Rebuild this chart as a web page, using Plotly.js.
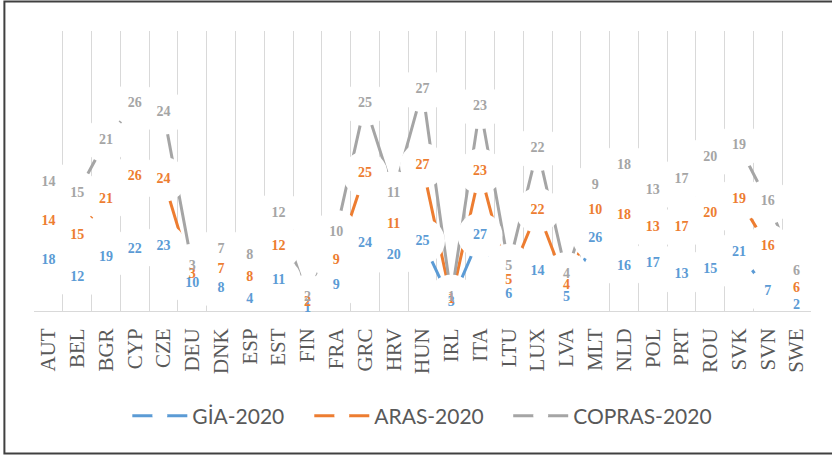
<!DOCTYPE html>
<html>
<head>
<meta charset="utf-8">
<script src="https://cdn.plot.ly/plotly-3.0.1.min.js"></script>
<style>html,body{margin:0;padding:0;background:#fff;}#chart{width:832px;height:455px;}</style>
</head>
<body>
<div id="chart"></div>
<script>
const categories = ['AUT','BEL','BGR','CYP','CZE','DEU','DNK','ESP','EST','FIN','FRA','GRC','HRV','HUN','IRL','ITA','LTU','LUX','LVA','MLT','NLD','POL','PRT','ROU','SVK','SVN','SWE'];
const gia    = [18,12,19,22,23,10,8,4,11,1,9,24,20,25,3,27,6,14,5,26,16,17,13,15,21,7,2];
const aras   = [14,15,21,26,24,3,7,8,12,2,9,25,11,27,1,23,5,22,4,10,18,13,17,20,19,16,6];
const copras = [14,15,21,26,24,3,7,8,12,2,10,25,11,27,1,23,5,22,4,9,18,13,17,20,19,16,6];
const seriesNames = ['GİA-2020','ARAS-2020','COPRAS-2020'];
const seriesValues = [gia, aras, copras];
const colors = ['#5B9BD5','#ED7D31','#A5A5A5'];
const legendIds = ['legend','legend2','legend3'];
const legendX = [0.1201, 0.3543, 0.6103];

const traces = [];
seriesValues.forEach((v,i)=>{
  traces.push({
    type:'scatter', x:categories, y:v, name:seriesNames[i], legend:legendIds[i],
    stackgroup:'lines', fill:'none', mode:'lines+markers',
    line:{color:colors[i], width:3},
    marker:{color:'#ffffff', size:15, line:{width:0}},
    hoverinfo:'skip'
  });
});
seriesValues.forEach((v,i)=>{
  traces.push({
    type:'scatter', x:categories, y:v, name:seriesNames[i]+' m',
    stackgroup:'marks', fill:'none', mode:'markers', showlegend:false,
    marker:{color:'#ffffff', size:45, line:{width:0}},
    hoverinfo:'skip'
  });
});
seriesValues.forEach((v,i)=>{
  traces.push({
    type:'scatter', x:categories, y:v, name:seriesNames[i]+' t',
    stackgroup:'labels', fill:'none', mode:'text', showlegend:false,
    text:v.map(String), textposition:'middle center', cliponaxis:false,
    textfont:{family:'Liberation Serif, Times New Roman, serif', size:14, color:colors[i], weight:'bold'},
    hoverinfo:'skip'
  });
});

const layout = {
  width:832, height:455,
  margin:{l:33.6, r:21, t:31, b:144},
  paper_bgcolor:'#ffffff', plot_bgcolor:'#ffffff',
  showlegend:true,
  xaxis:{
    type:'category', range:[-0.5, 26.5], tickson:'boundaries',
    showgrid:true, gridcolor:'#D9D9D9', gridwidth:1,
    showline:true, linecolor:'#D9D9D9', linewidth:1,
    ticks:'', tickangle:-90, layer:'below traces', ticklabelstandoff:8,
    tickfont:{family:'Liberation Serif, Times New Roman, serif', size:21, color:'#595959'}
  },
  yaxis:{range:[0,100], showgrid:false, zeroline:false, showticklabels:false, showline:false},
  shapes:[{
    type:'rect', xref:'paper', yref:'paper',
    x0:-0.0381, x1:1.2, y0:-0.509, y1:1.1054,
    line:{color:'#404040', width:2}, fillcolor:'rgba(0,0,0,0)'
  }]
};
legendIds.forEach((id,i)=>{
  layout[id] = {
    orientation:'h', x:legendX[i], xanchor:'left', y:-0.375, yanchor:'middle',
    font:{family:'Lato, sans-serif', size:21, color:'#595959'},
    itemwidth:55, bgcolor:'rgba(0,0,0,0)', borderwidth:0
  };
});

Plotly.newPlot('chart', traces, layout, {displayModeBar:false, staticPlot:true});
</script>
</body>
</html>
